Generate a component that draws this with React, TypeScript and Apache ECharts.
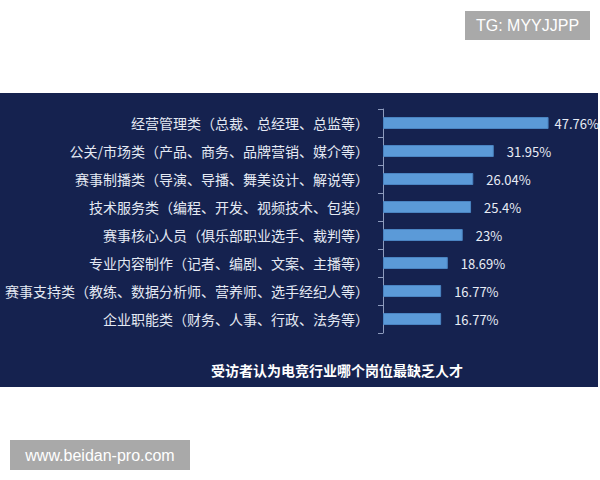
import React, { useEffect, useRef } from "react";
import * as echarts from "echarts";

const categories = [
  "经营管理类（总裁、总经理、总监等）",
  "公关/市场类（产品、商务、品牌营销、媒介等）",
  "赛事制播类（导演、导播、舞美设计、解说等）",
  "技术服务类（编程、开发、视频技术、包装）",
  "赛事核心人员（俱乐部职业选手、裁判等）",
  "专业内容制作（记者、编剧、文案、主播等）",
  "赛事支持类（教练、数据分析师、营养师、选手经纪人等）",
  "企业职能类（财务、人事、行政、法务等）",
];
const values = [47.76, 31.95, 26.04, 25.4, 23, 18.69, 16.77, 16.77];
const valueLabels = ["47.76%", "31.95%", "26.04%", "25.4%", "23%", "18.69%", "16.77%", "16.77%"];
const chartTitle = "受访者认为电竞行业哪个岗位最缺乏人才";
const watermarkTop = "TG: MYYJJPP";
const watermarkBottom = "www.beidan-pro.com";

const CJK = "'Noto Sans CJK SC', 'Noto Sans', sans-serif";

export default function App() {
  const ref = useRef<HTMLDivElement>(null);
  useEffect(() => {
    if (!ref.current) return;
    const chart = echarts.init(ref.current, null, { renderer: "svg" });
    chart.setOption({
      animation: false,
      backgroundColor: "#ffffff",
      graphic: [
        {
          type: "rect",
          z: -10,
          silent: true,
          shape: { x: 0, y: 93, width: 598, height: 294 },
          style: { fill: "#15224f" },
        },
        {
          type: "rect",
          shape: { x: 465, y: 11, width: 125, height: 29 },
          style: { fill: "#a9a9a9" },
        },
        {
          type: "text",
          x: 527.5,
          y: 25.5,
          style: {
            text: watermarkTop,
            fill: "#ffffff",
            font: "16px 'Liberation Sans', Arial, sans-serif",
            align: "center",
            verticalAlign: "middle",
          },
        },
        {
          type: "rect",
          shape: { x: 10, y: 440, width: 180, height: 30 },
          style: { fill: "#a9a9a9" },
        },
        {
          type: "text",
          x: 100,
          y: 455,
          style: {
            text: watermarkBottom,
            fill: "#ffffff",
            font: "16px 'Liberation Sans', Arial, sans-serif",
            align: "center",
            verticalAlign: "middle",
          },
        },
        {
          type: "text",
          x: 337,
          y: 370,
          style: {
            text: chartTitle,
            fill: "#ffffff",
            font: `bold 14px ${CJK}`,
            align: "center",
            verticalAlign: "middle",
          },
        },
      ],
      grid: { left: 383, right: 9, top: 109, bottom: 147 },
      xAxis: {
        type: "value",
        min: 0,
        max: 60,
        show: false,
      },
      yAxis: {
        type: "category",
        inverse: true,
        data: categories,
        axisLine: { show: true, lineStyle: { color: "#8d9bbd", width: 1 } },
        axisTick: { show: true, length: 5, lineStyle: { color: "#8d9bbd" } },
        axisLabel: {
          color: "#e4e9f3",
          fontSize: 14,
          fontFamily: CJK,
          margin: 14,
        },
      },
      series: [
        {
          type: "bar",
          barWidth: 12,
          data: values.map((v, i) => ({
            value: v,
            label: { distance: i === 0 ? 6 : 13 },
          })),
          itemStyle: {
            color: "#5b9ad8",
            borderColor: "#4a84c2",
            borderWidth: 1,
          },
          label: {
            show: true,
            position: "right",
            color: "#e8ecf5",
            fontSize: 13,
            fontFamily: CJK,
            formatter: (p: any) => valueLabels[p.dataIndex],
          },
        },
      ],
    });
    return () => chart.dispose();
  }, []);
  return (
    <div
      ref={ref}
      style={{ position: "fixed", left: 0, top: 0, width: 600, height: 480 }}
    />
  );
}
